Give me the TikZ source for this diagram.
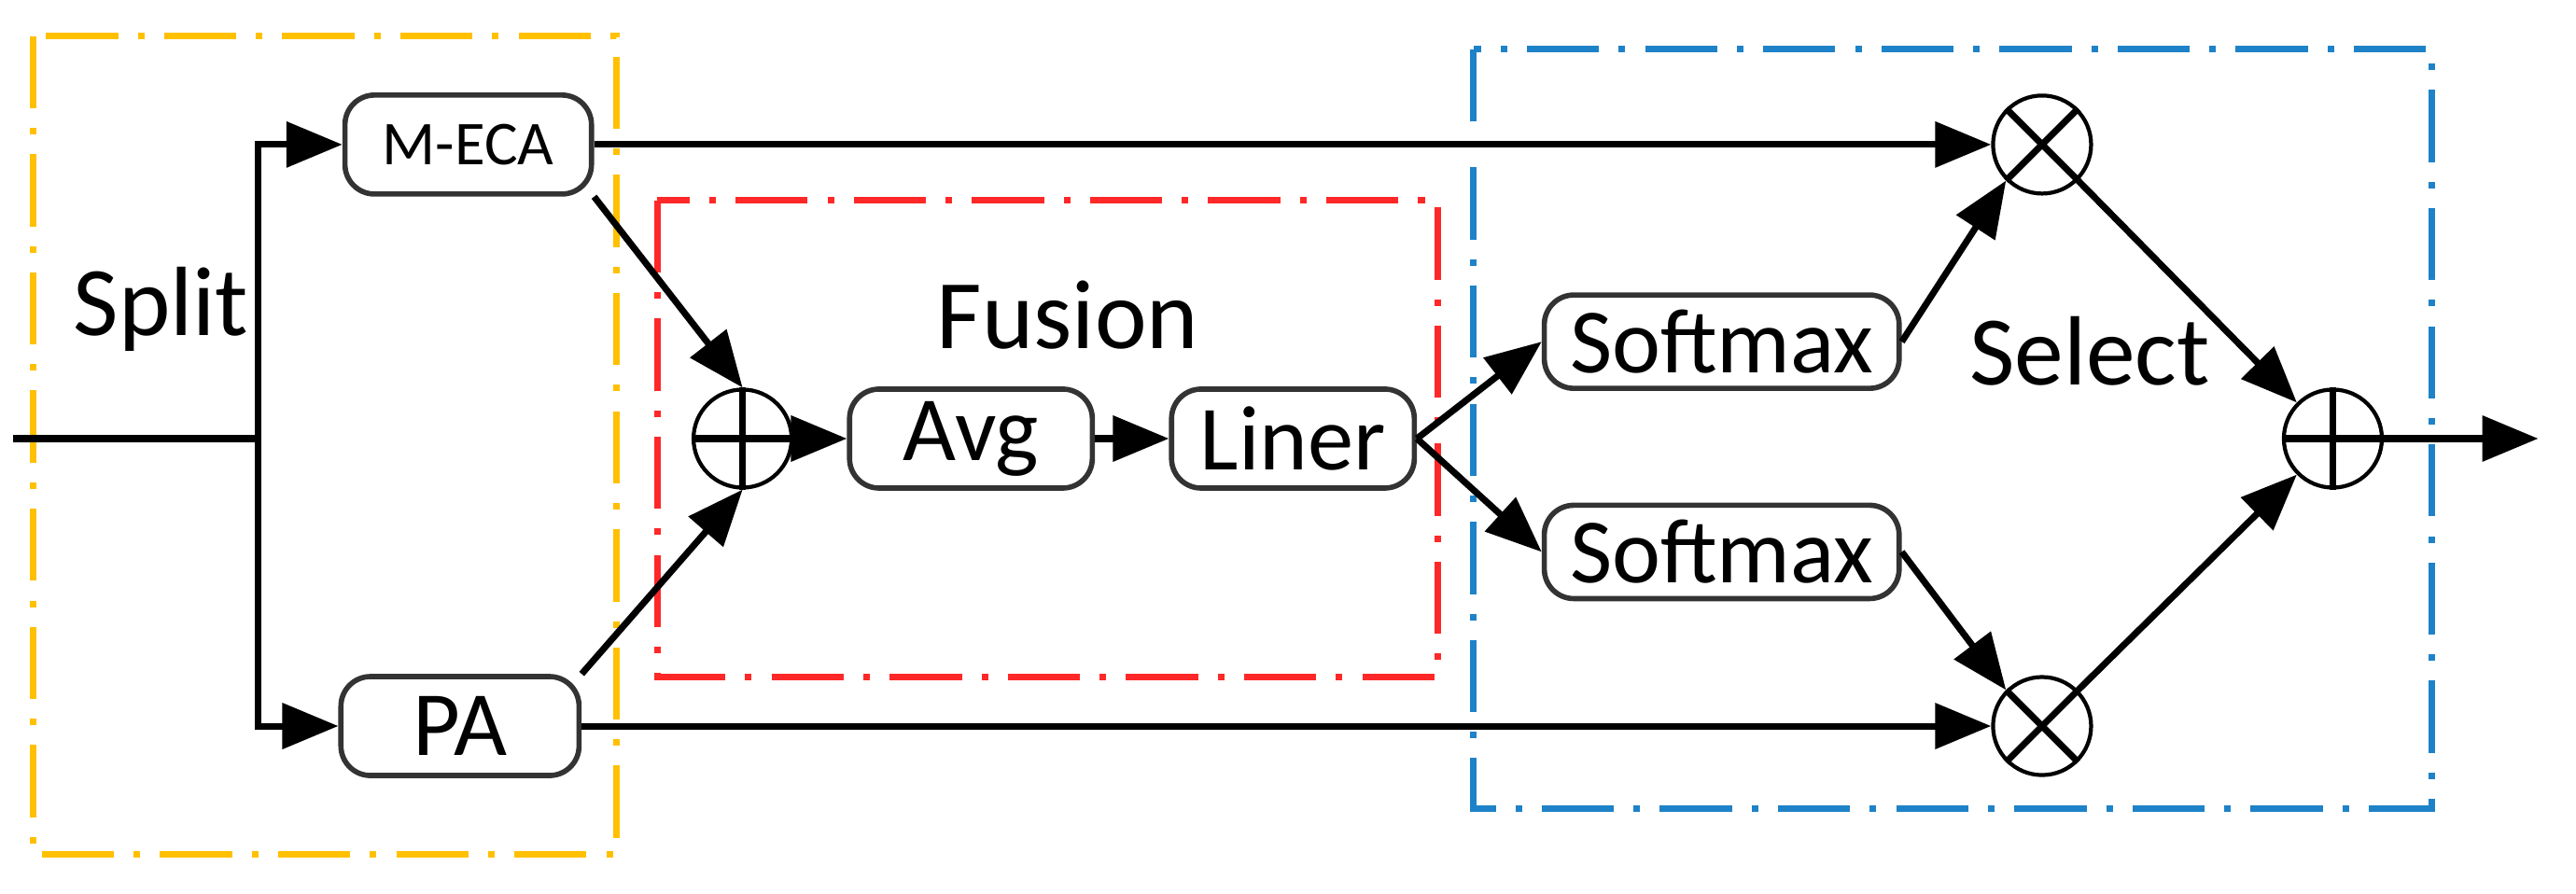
\documentclass[tikz,border=0pt]{standalone}
\usepackage{fontspec}
\setmainfont{Carlito}
\usetikzlibrary{arrows.meta}
\begin{document}
\begin{tikzpicture}[x=0.0176cm,y=-0.0176cm,
  box/.style={draw=black!80,line width=1.6pt,rounded corners=9pt,fill=white,inner sep=0pt,font=\fontsize{28}{28}\selectfont},
  op/.style={draw=black,line width=1.2pt,circle,minimum size=1.05cm,inner sep=0pt},
  ar/.style={line width=2pt,-{Triangle[length=0.6cm,width=0.48cm]}},
  ln/.style={line width=2pt},
  grp/.style={line width=2pt,dash pattern=on 22pt off 6pt on 2pt off 6pt},
  lbl/.style={font=\fontsize{30}{30}\selectfont}]
\useasboundingbox (0,0) rectangle (1568,544);
% groups
\draw[grp,draw={rgb,255:red,255;green,192;blue,0}] (20,22) rectangle (375,520);
\draw[grp,draw={rgb,255:red,255;green,40;blue,40}] (400,122) rectangle (875,412);
\draw[grp,draw={rgb,255:red,30;green,130;blue,200}] (897,30) rectangle (1480,492);
% nodes
\node[box,minimum width=2.64cm,minimum height=1.06cm,font=\fontsize{19}{19}\selectfont] (meca) at (285,88) {M-ECA};
\node[box,minimum width=2.55cm,minimum height=1.06cm] (pa) at (280,442) {PA};
\node[op] (p1) at (452,267) {};
\draw[line width=2pt] (p1.north)--(p1.south) (p1.west)--(p1.east);
\node[box,minimum width=2.6cm,minimum height=1.06cm] (avg) at (591,267) {Avg};
\node[box,minimum width=2.6cm,minimum height=1.06cm] (lin) at (787,267) {Liner};
\node[box,minimum width=3.8cm,minimum height=1.0cm] (s1) at (1048,208) {Softmax};
\node[box,minimum width=3.8cm,minimum height=1.0cm] (s2) at (1048,336) {Softmax};
\node[op] (t1) at (1243,88) {};
\node[op] (t2) at (1243,442) {};
\draw[line width=2pt] (t1.north west)--(t1.south east) (t1.north east)--(t1.south west)
  (t2.north west)--(t2.south east) (t2.north east)--(t2.south west);
\node[op] (p2) at (1420,267) {};
\draw[line width=2pt] (p2.north)--(p2.south) (p2.west)--(p2.east);
\coordinate (in) at (8,267);
\coordinate (sp) at (157,267);
\coordinate (out) at (1545,267);
% labels
\node[lbl] (lsplit) at (98,188) {Split};
\node[lbl] (lfus) at (650,192) {Fusion};
\node[lbl] (lsel) at (1272,214) {Select};
% connectors
\draw[ln] (in)--(sp);
\draw[ar] (sp) |- (meca.west);
\draw[ar] (sp) |- (pa.west);
\draw[ar] (meca.east)--(t1.west);
\draw[ar] (pa.east)--(t2.west);
\draw[ar] (meca.south east)--(p1.north);
\draw[ar] (pa.north east)--(p1.south);
\draw[ar] (p1.east)--(avg.west);
\draw[ar] (avg.east)--(lin.west);
\draw[ar] (lin.east)--(s1.west);
\draw[ar] (lin.east)--(s2.west);
\draw[ar] (s1.east)--(t1.south west);
\draw[ar] (s2.east)--(t2.north west);
\draw[ar] (t1.south east)--(p2.north west);
\draw[ar] (t2.north east)--(p2.south west);
\draw[ar] (p2.east)--(out);
\end{tikzpicture}
\end{document}
